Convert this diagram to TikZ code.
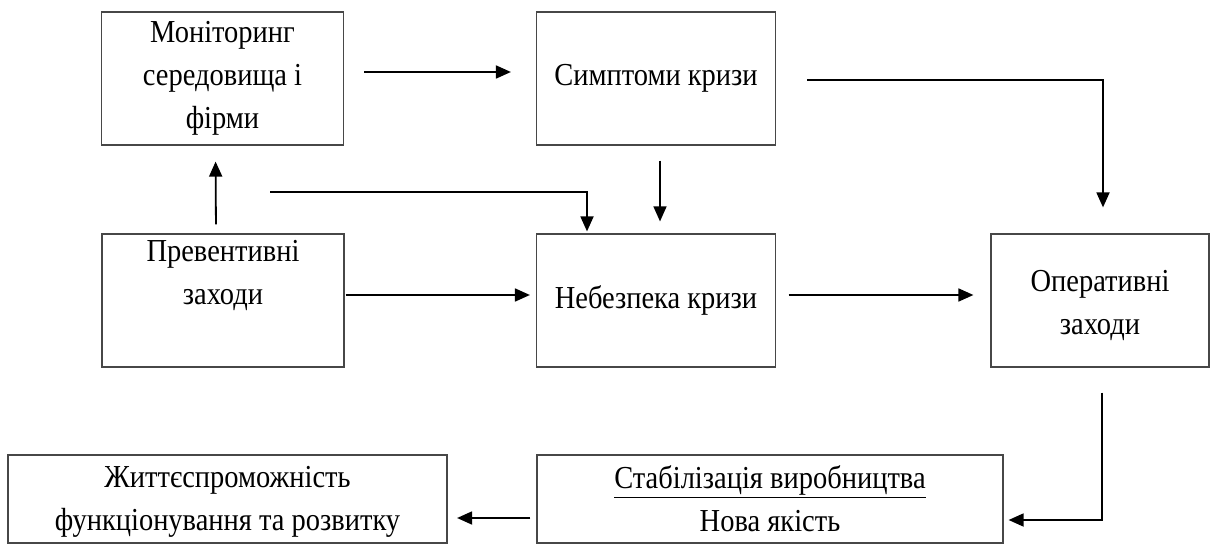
\documentclass[tikz,border=0pt]{standalone}
\usepackage{fontspec}
\setmainfont{Liberation Serif}[FakeStretch=0.89]
\usetikzlibrary{arrows.meta}
\tikzset{
  txt/.style={inner sep=0pt, align=center, font=\fontsize{32}{43}\selectfont},
  box/.style={txt, draw=black!72, line width=1.2pt},
  arr/.style={line width=1.8pt, -{Triangle[length=15pt,width=13pt]}},
}
\begin{document}
\begin{tikzpicture}[x=1pt,y=-1pt]
\useasboundingbox (0,0) rectangle (1213,545);
\node[box, minimum width=242pt, minimum height=133pt] (mon) at (222.5,78.5) {Моніторинг\\середовища і\\фірми};
\node[box, minimum width=239pt, minimum height=133pt] (sym) at (656,78.5) {Симптоми кризи};
\node[box, minimum width=242pt, minimum height=133pt] (prev) at (223,300.5) {Превентивні\\заходи\\\strut};
\node[box, minimum width=239pt, minimum height=133pt] (neb) at (656,300.5) {Небезпека кризи};
\node[box, minimum width=218pt, minimum height=133pt] (oper) at (1100,300.5) {};
\node[txt] (opert) at ([yshift=-5pt]oper.center) {Оперативні\\заходи};
\node[box, minimum width=466pt, minimum height=88pt] (stab) at (770,499) {\underline{Стабілізація виробництва}\\Нова якість};
\node[box, minimum width=439pt, minimum height=88pt] (zhyt) at (227.5,499) {};
\node[txt] (zhytt) at ([yshift=-3pt]zhyt.center) {Життєспроможність\\функціонування та розвитку};
\coordinate (c4) at (270,192);

\draw[arr, shorten <=20pt, shorten >=25pt] ([yshift=6.5pt]mon.east) -- ([yshift=6.5pt]sym.west);
\draw[arr, shorten <=31pt, shorten >=26pt] ([yshift=-1.5pt]sym.east) -| ([xshift=3pt]oper.north);
\draw[arr, line width=1.4pt, shorten <=15pt, shorten >=12pt] ([xshift=4pt]sym.south) -- ([xshift=4pt]neb.north);
\draw[arr, shorten >=2pt] (c4) -| ([xshift=-69pt]neb.north);
\draw[arr, shorten <=9pt, shorten >=16pt] ([xshift=-7pt]prev.north) -- ([xshift=-7pt]mon.south);
\draw[arr, shorten <=1pt, shorten >=6pt] ([yshift=5.5pt]prev.east) -- ([yshift=5.5pt]neb.west);
\draw[arr, shorten <=12.5pt, shorten >=17pt] ([yshift=5.5pt]neb.east) -- ([yshift=5.5pt]oper.west);
\draw[arr, shorten <=25pt, shorten >=5pt] ([xshift=2pt]oper.south) |- ([yshift=-21pt]stab.east);
\draw[arr, shorten <=6pt, shorten >=9.5pt] ([yshift=-19pt]stab.west) -- ([yshift=-19pt]zhyt.east);
\end{tikzpicture}
\end{document}
